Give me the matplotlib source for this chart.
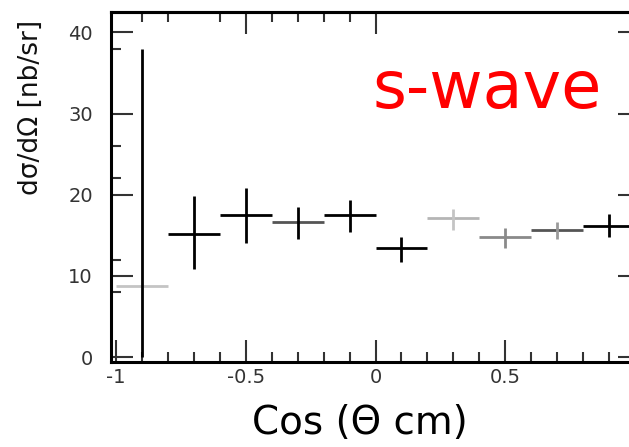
import matplotlib.pyplot as plt
from matplotlib.ticker import FixedLocator

# Bin centres in cos(theta_cm), each bin is 0.2 wide
cos_centers = [-0.9, -0.7, -0.5, -0.3, -0.1, 0.1, 0.3, 0.5, 0.7, 0.9]
bin_half = [0.1, 0.1, 0.1, 0.1, 0.1, 0.1, 0.1, 0.1, 0.1, 0.1]

# Cross section values and errors (nb/sr)
dsig = [8.7, 15.2, 17.5, 16.6, 17.5, 13.4, 17.1, 14.8, 15.7, 16.1]
dsig_err_lo = [8.7, 4.3, 3.5, 2.0, 2.1, 1.7, 1.5, 1.4, 1.2, 1.3]
dsig_err_hi = [29.3, 4.7, 3.3, 1.9, 1.9, 1.4, 1.2, 1.1, 0.9, 1.5]

# the scan fades some of the bars to grey
xbar_colors = ["#c4c4c4", "black", "black", "#555555", "black", "black", "#b5b5b5", "#8a8a8a", "#555555", "black"]
ybar_colors = ["black", "black", "black", "black", "black", "black", "#c4c4c4", "#8a8a8a", "#9a9a9a", "black"]

x_ticks = [-1, -0.5, 0, 0.5]
x_ticklabels = ["-1", "-0.5", "0", "0.5"]
x_minor = [-0.9, -0.8, -0.7, -0.6, -0.4, -0.3, -0.2, -0.1, 0.1, 0.2, 0.3, 0.4, 0.6, 0.7, 0.8, 0.9]
top_major = [-0.5, 0]
top_minor = [-0.9, -0.8, -0.6, -0.4, -0.3, -0.2, -0.1]
y_ticks = [0, 10, 20, 30, 40]
y_minor = [8, 12, 22, 26, 38]

fig = plt.figure(figsize=(6.29, 4.47), dpi=100)
# right edge of the frame sits just past the picture, like in the scan
ax = fig.add_axes([111 / 629, 1 - 362 / 447, 529 / 629, 350 / 447])

for i in range(len(cos_centers)):
    # horizontal bin-width bar
    ax.errorbar(cos_centers[i], dsig[i], xerr=bin_half[i], fmt="none",
                ecolor=xbar_colors[i], elinewidth=2.0, capsize=0)
    # vertical stat error bar
    ax.errorbar(cos_centers[i], dsig[i], yerr=[[dsig_err_lo[i]], [dsig_err_hi[i]]],
                fmt="none", ecolor=ybar_colors[i], elinewidth=2.0, capsize=0)

ax.set_xlim(-1.019, 1.019)
ax.set_ylim(-0.6, 42.5)

ax.set_xticks(x_ticks)
ax.set_xticklabels(x_ticklabels)
ax.set_yticks(y_ticks)
ax.xaxis.set_minor_locator(FixedLocator(x_minor))
ax.yaxis.set_minor_locator(FixedLocator(y_minor))

ax.tick_params(which="both", direction="in", top=False, right=True, colors="#333333",
               labelsize=14, width=1.5)
ax.tick_params(which="major", length=16)
ax.tick_params(which="minor", length=7)
ax.tick_params(axis="y", pad=13)
ax.tick_params(axis="x", pad=4)

# top ticks only show on the left half in the scan
top = ax.secondary_xaxis("top")
top.set_xticks(top_major)
top.xaxis.set_minor_locator(FixedLocator(top_minor))
top.tick_params(which="both", direction="in", labeltop=False, colors="#333333", width=1.5)
top.tick_params(which="major", length=16)
top.tick_params(which="minor", length=7)
top.spines["top"].set_linewidth(2.2)

for s in ax.spines.values():
    s.set_linewidth(2.2)
    s.set_color("black")

# Axis titles
fig.text(31 / 629, 1 - 107 / 447, "dσ/dΩ [nb/sr]", rotation=90, ha="center", va="center",
         fontsize=19, color="#111111")
fig.text(360 / 629, 1 - 423 / 447, "Cos (Θ cm)", ha="center", va="center",
         fontsize=28, color="black")

# Big red label
fig.text(373 / 629, 1 - 108 / 447, "s-wave", ha="left", va="baseline",
         fontsize=47, color="#ff0000")

fig.savefig("out.png", dpi=100)
